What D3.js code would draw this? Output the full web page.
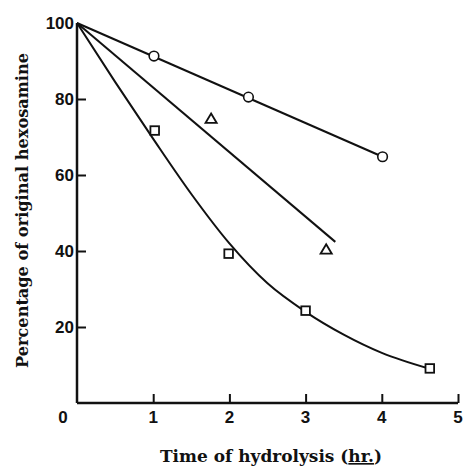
<!DOCTYPE html>
<html>
<head>
<meta charset="utf-8">
<script src="https://cdn.jsdelivr.net/npm/d3@7/dist/d3.min.js"></script>
<style>
html,body{margin:0;padding:0;background:#fff;}
svg{display:block;}
</style>
</head>
<body>
<script>
// ---- data ----
const xTicks = [0, 1, 2, 3, 4, 5];
const yTicks = [20, 40, 60, 80, 100];
const circleX = [1.01, 2.25, 4.01];
const circleY = [91.3, 80.5, 64.8];
const circleLine = [[0, 100], [4.01, 64.8]];
const triangleX = [1.76, 3.27];
const triangleY = [74.8, 40.4];
const triangleLine = [[0, 100], [3.39, 42.4]];
const squareX = [1.02, 1.99, 3.0, 4.63];
const squareY = [71.7, 39.3, 24.3, 9.1];
const squareCurve = [[0, 100], [0.5, 84.5], [1, 69.5], [1.5, 55], [2, 42], [2.5, 31.5], [3, 24], [3.5, 18], [4, 13.2], [4.63, 9]];
const xTitleParts = ["Time of hydrolysis (", "hr.", ")"];
const yTitle = "Percentage of original hexosamine";

const W = 464, H = 468;
const svg = d3.select("body").append("svg").attr("width", W).attr("height", H);

const x = d3.scaleLinear().domain([0, 5]).range([77, 458]);
const y = d3.scaleLinear().domain([0, 100]).range([403, 23]);

const ink = "#111";

// axes
const xAxis = d3.axisBottom(x).tickValues(xTicks.slice(1)).tickSize(-9).tickFormat("");
const gx = svg.append("g").attr("transform", `translate(0,${y(0)})`).call(xAxis);
gx.select(".domain").attr("d", `M${x(0)},0H${x(5)}`).attr("stroke", ink).attr("stroke-width", 2.5);
gx.selectAll(".tick line").attr("stroke", ink).attr("stroke-width", 2);

const yAxis = d3.axisLeft(y).tickValues(yTicks.filter(v => v < 100)).tickSize(-9).tickFormat("");
const gy = svg.append("g").attr("transform", `translate(${x(0)},0)`).call(yAxis);
gy.select(".domain").attr("d", `M0,${y(0)}V${y(100)}`).attr("stroke", ink).attr("stroke-width", 2.5);
gy.selectAll(".tick line").attr("stroke", ink).attr("stroke-width", 2);

// tick labels
const tickFont = "'Liberation Sans', Arial, sans-serif";
svg.append("g").selectAll("text").data(xTicks).join("text")
  .attr("x", d => d === 0 ? x(0) - 14 : x(d))
  .attr("y", 423)
  .attr("text-anchor", "middle")
  .attr("font-family", tickFont).attr("font-weight", "bold").attr("font-size", 17).attr("fill", ink)
  .text(d => d);

svg.append("g").selectAll("text").data(yTicks).join("text")
  .attr("x", 74)
  .attr("y", d => y(d) + 6)
  .attr("text-anchor", "end")
  .attr("font-family", tickFont).attr("font-weight", "bold").attr("font-size", 17).attr("fill", ink)
  .text(d => d);

// titles
const titleFont = "'DejaVu Serif', 'Liberation Serif', serif";
const xt = svg.append("text")
  .attr("x", 271).attr("y", 462)
  .attr("text-anchor", "middle")
  .attr("font-family", titleFont).attr("font-weight", "bold").attr("font-size", 16.5)
  .attr("textLength", 222).attr("lengthAdjust", "spacingAndGlyphs")
  .attr("fill", ink);
xt.selectAll("tspan").data(xTitleParts).join("tspan")
  .attr("text-decoration", (d, i) => i === 1 ? "underline" : null)
  .text(d => d);

svg.append("text")
  .attr("transform", "translate(28,210.5) rotate(-90)")
  .attr("text-anchor", "middle")
  .attr("font-family", titleFont).attr("font-weight", "bold").attr("font-size", 16.5)
  .attr("textLength", 315).attr("lengthAdjust", "spacingAndGlyphs")
  .attr("fill", ink)
  .text(yTitle);

// lines
const line = d3.line().x(d => x(d[0])).y(d => y(d[1]));
const curve = d3.line().x(d => x(d[0])).y(d => y(d[1])).curve(d3.curveMonotoneX);
const lw = 2;
svg.append("path").attr("d", line(circleLine)).attr("fill", "none").attr("stroke", ink).attr("stroke-width", lw);
svg.append("path").attr("d", line(triangleLine)).attr("fill", "none").attr("stroke", ink).attr("stroke-width", lw);
svg.append("path").attr("d", curve(squareCurve)).attr("fill", "none").attr("stroke", ink).attr("stroke-width", lw);

// markers
svg.append("g").selectAll("circle").data(circleX).join("circle")
  .attr("cx", d => x(d)).attr("cy", (d, i) => y(circleY[i])).attr("r", 4.8)
  .attr("fill", "#fff").attr("stroke", ink).attr("stroke-width", 1.6);

// slightly flattened triangle marker
const triShape = "M0,-5.2L5.6,4.2L-5.6,4.2Z";
svg.append("g").selectAll("path").data(triangleX).join("path")
  .attr("d", triShape)
  .attr("transform", (d, i) => `translate(${x(d)},${y(triangleY[i])})`)
  .attr("fill", "#fff").attr("stroke", ink).attr("stroke-width", 1.8).attr("stroke-linejoin", "miter");

svg.append("g").selectAll("rect").data(squareX).join("rect")
  .attr("x", d => x(d) - 4.3).attr("y", (d, i) => y(squareY[i]) - 4.3)
  .attr("width", 8.6).attr("height", 8.6)
  .attr("fill", "#fff").attr("stroke", ink).attr("stroke-width", 1.8);
</script>
</body>
</html>
